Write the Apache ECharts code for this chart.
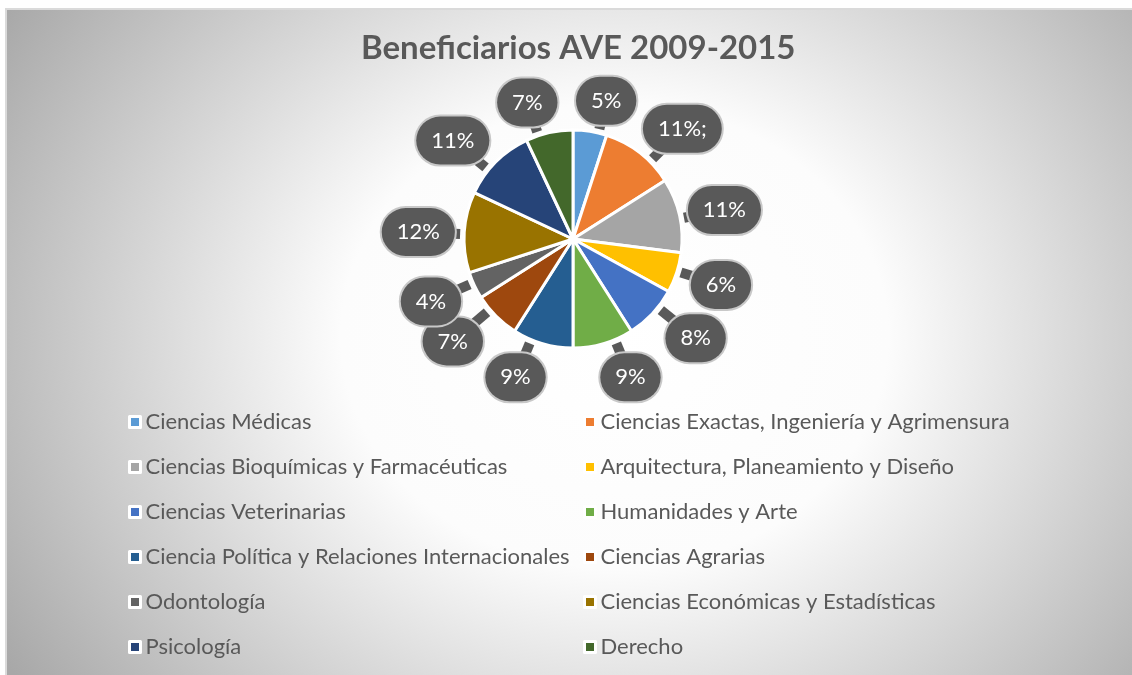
<!DOCTYPE html>
<html><head><meta charset="utf-8">
<script src="https://cdn.jsdelivr.net/npm/echarts@6/dist/echarts.min.js"></script>
<style>
html,body{margin:0;padding:0;background:#fff;width:1132px;height:675px;overflow:hidden}
#bg{position:absolute;left:5px;top:8px;width:1127px;height:667px;box-sizing:border-box;border-left:2px solid #dadada;border-top:2px solid #dadada;
background:radial-gradient(ellipse 64% 92% at 54% 49%, #ffffff 0%, #fcfcfc 38%, #a8a8a8 100%);}
#chart{position:absolute;left:0;top:0;width:1132px;height:675px}
</style></head><body><div id="bg"></div><div id="chart"></div>
<script>
const chartTitle = 'Beneficiarios AVE 2009-2015';
const categories = [
  'Ciencias Médicas',
  'Ciencias Exactas, Ingeniería y Agrimensura',
  'Ciencias Bioquímicas y Farmacéuticas',
  'Arquitectura, Planeamiento y Diseño',
  'Ciencias Veterinarias',
  'Humanidades y Arte',
  'Ciencia Política y Relaciones Internacionales',
  'Ciencias Agrarias',
  'Odontología',
  'Ciencias Económicas y Estadísticas',
  'Psicología',
  'Derecho'
];
const values = [5, 11, 11, 6, 8, 9, 9, 7, 4, 12, 11, 7];
const labelTexts = ['5%', '11%;', '11%', '6%', '8%', '9%', '9%', '7%', '4%', '12%', '11%', '7%'];
const colors = ['#5B9BD5', '#ED7D31', '#A5A5A5', '#FFC000', '#4472C4', '#70AD47',
                '#255E91', '#9E480E', '#636363', '#997300', '#264478', '#43682B'];

const CX = 573, CY = 239, R = 109;
const total = values.reduce((a, b) => a + b, 0);
const mids = [];
let acc = 0;
values.forEach(v => { mids.push(2 * Math.PI * (acc + v / 2) / total); acc += v; });

const FONT = 'Lato';
const chart = echarts.init(document.getElementById('chart'), null, {renderer: 'canvas'});
const legendBase = {
  orient: 'vertical', top: 405, itemWidth: 11, itemHeight: 11, itemGap: 21,
  icon: 'rect', selectedMode: false,
  itemStyle: {borderColor: '#fff', borderWidth: 3},
  textStyle: {fontSize: 22, lineHeight: 24, color: '#595959', fontFamily: FONT}
};
chart.setOption({
  animation: false,
  color: colors,
  title: {
    text: chartTitle, left: 356, top: 27,
    textStyle: {fontSize: 33, fontWeight: 'bold', color: '#595959', fontFamily: FONT}
  },
  legend: [
    Object.assign({}, legendBase, {left: 123, data: categories.filter((_, i) => i % 2 === 0)}),
    Object.assign({}, legendBase, {left: 578, data: categories.filter((_, i) => i % 2 === 1)})
  ],
  series: [{
    type: 'pie',
    center: [CX, CY],
    radius: R,
    startAngle: 90,
    clockwise: true,
    avoidLabelOverlap: false,
    emphasis: {disabled: true},
    itemStyle: {borderColor: '#ffffff', borderWidth: 3},
    data: categories.map((c, i) => ({name: c, value: values[i]})),
    label: {
      show: true, position: 'outside',
      formatter: p => labelTexts[p.dataIndex],
      color: '#ffffff', fontSize: 22, fontFamily: FONT,
      backgroundColor: '#595959', borderColor: '#c8c8c8', borderWidth: 2,
      borderRadius: 26, padding: [13, 15]
    },
    labelLine: {show: true, length: 10, length2: 0, lineStyle: {color: '#595959', width: 10}},
    labelLayout: function (p) {
      const t = mids[p.dataIndex];
      const s = Math.sin(t), c = Math.cos(t);
      const rx = 155 + 60 * Math.pow(c, 4), ry = 142;
      const bx = CX + rx * s, by = CY + 2 - ry * c;
      const dx = bx - CX, dy = by - CY, d = Math.hypot(dx, dy);
      const ux = dx / d, uy = dy / d;
      const tx = CX + (R + 4) * ux, ty = CY + (R + 4) * uy;
      const ex = bx - 16 * ux, ey = by - 16 * uy;
      return {x: bx, y: by, align: 'center', verticalAlign: 'middle',
              labelLinePoints: [[tx, ty], [ex, ey], [ex, ey]]};
    }
  }]
});
</script></body></html>
